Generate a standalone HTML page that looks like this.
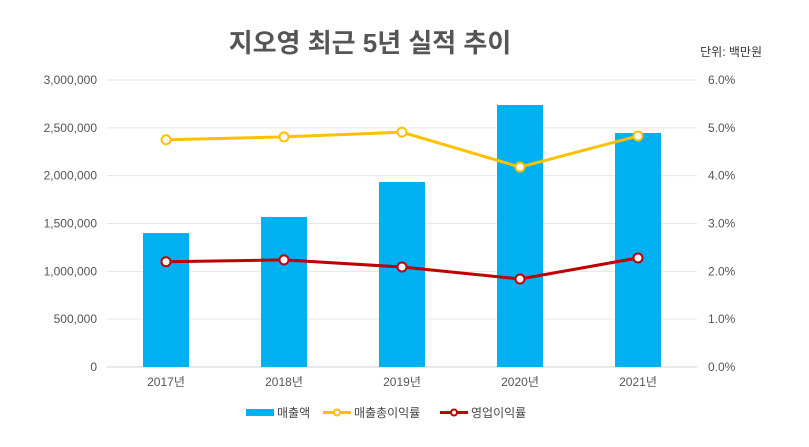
<!DOCTYPE html>
<html><head><meta charset="utf-8"><style>
body{margin:0;background:#fff;width:809px;height:442px;overflow:hidden;font-family:"Liberation Sans","Noto Sans CJK KR",sans-serif;}
svg text{font-family:"Liberation Sans","Noto Sans CJK KR",sans-serif;}
</style></head><body>
<svg id="chart" width="809" height="442">
<text x="370" y="52" text-anchor="middle" font-size="26" font-weight="bold" fill="#555">지오영 최근 5년 실적 추이</text>
<text x="762" y="56" text-anchor="end" font-size="12" fill="#333">단위: 백만원</text>
<g id="grid"></g><g id="bars"></g><g id="lines"></g><g id="axes"></g>
<g>
<rect x="246" y="409" width="28" height="7" fill="#00B0F0"/>
<text x="277" y="417" font-size="12" fill="#444">매출액</text>
<line x1="323" y1="412.5" x2="351" y2="412.5" stroke="#FFC000" stroke-width="3"/>
<circle cx="337" cy="412.5" r="3" fill="#fff" stroke="#FFC000" stroke-width="2"/>
<text x="354" y="417" font-size="12" fill="#444">매출총이익률</text>
<line x1="440" y1="412.5" x2="468" y2="412.5" stroke="#C00000" stroke-width="3"/>
<circle cx="454" cy="412.5" r="3" fill="#fff" stroke="#C00000" stroke-width="2"/>
<text x="471" y="417" font-size="12" fill="#444">영업이익률</text>
</g>
</svg>
<script>
const categories=["2017년","2018년","2019년","2020년","2021년"];
const revenue=[1400000,1568000,1934000,2739000,2446000];
const grossMargin=[4.75,4.81,4.91,4.18,4.83];
const opMargin=[2.2,2.24,2.09,1.84,2.28];
const leftTicks=["0","500,000","1,000,000","1,500,000","2,000,000","2,500,000","3,000,000"];
const rightTicks=["0.0%","1.0%","2.0%","3.0%","4.0%","5.0%","6.0%"];
const NS="http://www.w3.org/2000/svg";
const X0=107,X1=697,Y0=367,Y1=80;
const band=(X1-X0)/categories.length;
const xc=i=>X0+band*(i+0.5);
const yL=v=>Y0-(v/3000000)*(Y0-Y1);
const yR=v=>Y0-(v/6)*(Y0-Y1);
function mk(tag,attrs,parent){const e=document.createElementNS(NS,tag);for(const k in attrs)e.setAttribute(k,attrs[k]);document.getElementById(parent).appendChild(e);return e;}
leftTicks.forEach((t,i)=>{const y=Y0-i*(Y0-Y1)/6;
 const g=mk('line',{x1:X0,x2:X1,y1:y,y2:y,stroke:i===0?'#d0d0d0':'#e6e6e6','stroke-width':1},'grid');
 
 
 const a=mk('text',{x:97,y:y+4,'text-anchor':'end','font-size':12,fill:'#555'},'axes');a.textContent=t;
 
 
 const b=mk('text',{x:708,y:y+4,'font-size':12,fill:'#555'},'axes');b.textContent=rightTicks[i];
 
 
});
categories.forEach((c,i)=>{const t=mk('text',{x:xc(i),y:386,'text-anchor':'middle','font-size':12,fill:'#555'},'axes');t.textContent=c;
 
 
 const r=mk('rect',{x:xc(i)-23,y:yL(revenue[i]),width:46,height:Y0-yL(revenue[i]),fill:'#00B0F0'},'bars');
 
 
});
function series(vals,color,name){
 const p=mk('polyline',{points:vals.map((v,i)=>xc(i)+','+yR(v)).join(' '),fill:'none',stroke:color,'stroke-width':3},'lines');
 
 
 vals.forEach((v,i)=>{const c=mk('circle',{cx:xc(i),cy:yR(v),r:4.5,fill:'#fff',stroke:color,'stroke-width':2},'lines');
  
  });
}
series(grossMargin,'#FFC000','gross-margin');
series(opMargin,'#C00000','operating-margin');
</script>
</body></html>
